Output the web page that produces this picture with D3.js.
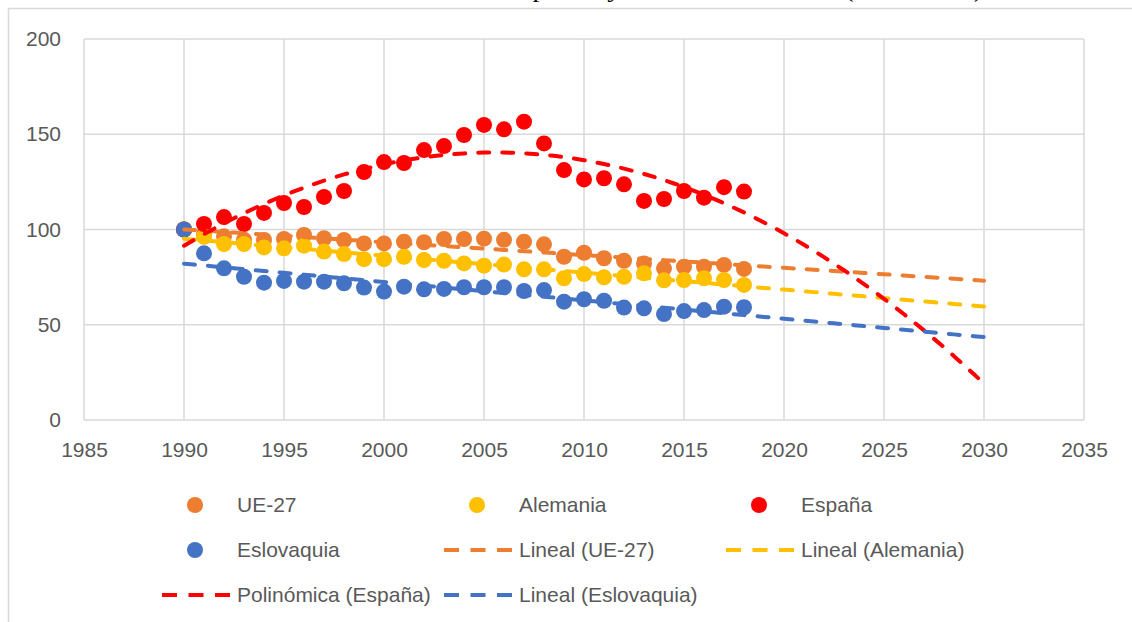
<!DOCTYPE html>
<html>
<head>
<meta charset="utf-8">
<script src="https://cdn.jsdelivr.net/npm/d3@7"></script>
<style>
  html, body { margin: 0; padding: 0; background: #fff; }
  svg { display: block; }
</style>
</head>
<body>
<div id="chart"></div>
<script>
const years = d3.range(1990, 2019);

const ue27 = [100, 97.5, 96.4, 94.6, 94.5, 95.0, 97.1, 95.4, 94.5, 92.7, 92.7, 93.6, 93.3, 95.0, 95.0,
  95.2, 94.6, 93.6, 92.2, 85.7, 87.8, 84.9, 83.6, 82.2, 79.6, 80.5, 80.5, 81.4, 79.3];
const alemania = [100, 96.2, 92.4, 92.4, 90.6, 90.1, 91.5, 88.4, 87.1, 84.4, 84.4, 85.7, 84.0, 83.6, 82.2,
  81.0, 81.6, 79.1, 79.1, 74.4, 76.6, 74.9, 75.2, 77.0, 73.3, 73.5, 74.4, 73.5, 70.9];
const espana = [100, 102.9, 106.5, 102.9, 108.7, 113.9, 111.8, 117.1, 120.2, 130.2, 135.4, 134.9, 141.7, 143.8, 149.6,
  154.9, 152.6, 156.6, 145.2, 131.2, 126.3, 126.9, 123.7, 115.0, 116.0, 120.2, 116.7, 122.2, 119.9];
const eslovaquia = [100, 87.5, 79.6, 75.2, 72.1, 73.0, 72.6, 72.6, 71.8, 69.5, 67.4, 70.0, 68.6, 68.8, 69.7,
  69.7, 69.7, 67.7, 68.2, 62.1, 63.4, 62.6, 59.0, 58.6, 55.6, 57.2, 57.7, 59.5, 59.2];

const seriesNames = ["UE-27", "Alemania", "España", "Eslovaquia"];
const seriesColors = ["#ED7D31", "#FFC000", "#FF0000", "#4472C4"];
const trendOrders = [1, 1, 2, 1];
const trendNames = ["Lineal (UE-27)", "Lineal (Alemania)", "Polinómica (España)", "Lineal (Eslovaquia)"];

const xTicks = d3.range(1985, 2036, 5);
const yTicks = [0, 50, 100, 150, 200];
const forecastEnd = 2030;

const title = "Gráfica 1: Evolución de las emisiones de estos países y de la media UE-27 (1990-2030)";

const W = 1132, H = 622;
const margin = { top: 39, right: 48, bottom: 202, left: 84 };
const font = "'Liberation Sans', Arial, sans-serif";
const textColor = "#595959";
const gridColor = "#d9d9d9";

const svg = d3.select("#chart").append("svg")
  .attr("width", W)
  .attr("height", H);

// title, mostly cut off at the top (as in the source image)
svg.append("text")
  .attr("x", 8)
  .attr("y", -3)
  .attr("font-family", "'Liberation Serif', 'Times New Roman', serif")
  .attr("font-size", 24)
  .attr("textLength", 975)
  .attr("lengthAdjust", "spacingAndGlyphs")
  .attr("fill", "#000")
  .text(title);

// chart frame
svg.append("rect")
  .attr("x", 8.5)
  .attr("y", 8.5)
  .attr("width", W + 20)
  .attr("height", H + 20)
  .attr("fill", "none")
  .attr("stroke", gridColor)
  .attr("stroke-width", 1.5);

const x = d3.scaleLinear()
  .domain([1985, 2035])
  .range([margin.left, W - margin.right]);

const y = d3.scaleLinear()
  .domain([0, 200])
  .range([H - margin.bottom, margin.top]);

// grid
svg.append("g")
  .selectAll("line")
  .data(yTicks)
  .join("line")
  .attr("x1", x(1985))
  .attr("x2", x(2035))
  .attr("y1", d => y(d))
  .attr("y2", d => y(d))
  .attr("stroke", gridColor)
  .attr("stroke-width", 1.5);

svg.append("g")
  .selectAll("line")
  .data(xTicks)
  .join("line")
  .attr("x1", d => x(d))
  .attr("x2", d => x(d))
  .attr("y1", y(0))
  .attr("y2", y(200))
  .attr("stroke", gridColor)
  .attr("stroke-width", 1.5);

// axes (labels only)
const yAxis = svg.append("g")
  .attr("transform", `translate(${margin.left},0)`)
  .call(d3.axisLeft(y).tickValues(yTicks).tickSize(0).tickPadding(23));
yAxis.select(".domain").remove();
yAxis.selectAll("text")
  .attr("font-family", font)
  .attr("font-size", 21)
  .attr("fill", textColor);

const xAxis = svg.append("g")
  .attr("transform", `translate(0,${y(0)})`)
  .call(d3.axisBottom(x).tickValues(xTicks).tickFormat(d3.format("d")).tickSize(0).tickPadding(22));
xAxis.select(".domain").remove();
xAxis.selectAll("text")
  .attr("font-family", font)
  .attr("font-size", 21)
  .attr("fill", textColor);

// least squares polynomial fit
function polyFit(xs, ys, order) {
  const x0 = 1990;
  const n = order + 1;
  const A = Array.from({ length: n }, () => new Array(n + 1).fill(0));
  xs.forEach((xv, k) => {
    const t = xv - x0;
    for (let i = 0; i < n; i++) {
      for (let j = 0; j < n; j++) A[i][j] += Math.pow(t, i + j);
      A[i][n] += ys[k] * Math.pow(t, i);
    }
  });
  for (let i = 0; i < n; i++) {
    let p = i;
    for (let r = i + 1; r < n; r++) if (Math.abs(A[r][i]) > Math.abs(A[p][i])) p = r;
    [A[i], A[p]] = [A[p], A[i]];
    for (let r = 0; r < n; r++) {
      if (r === i) continue;
      const f = A[r][i] / A[i][i];
      for (let c = i; c <= n; c++) A[r][c] -= f * A[i][c];
    }
  }
  const coef = A.map((row, i) => row[n] / row[i]);
  return xv => coef.reduce((s, c, i) => s + c * Math.pow(xv - x0, i), 0);
}

const allSeries = [ue27, alemania, espana, eslovaquia];

// markers
allSeries.forEach((vals, i) => {
  svg.append("g")
    .selectAll("circle")
    .data(vals)
    .join("circle")
    .attr("cx", (d, k) => x(years[k]))
    .attr("cy", d => y(d))
    .attr("r", 8)
    .attr("fill", seriesColors[i]);
});

// trend lines
const trendLine = d3.line()
  .x(d => x(d[0]))
  .y(d => y(d[1]));

allSeries.forEach((vals, i) => {
  const f = polyFit(years, vals, trendOrders[i]);
  const pts = d3.range(1990, forecastEnd + 0.01, 0.5).map(t => [t, f(t)]);
  svg.append("path")
    .datum(pts)
    .attr("fill", "none")
    .attr("stroke", seriesColors[i])
    .attr("stroke-width", 4)
    .attr("stroke-linecap", "round")
    .attr("stroke-dasharray", "11 13")
    .attr("d", trendLine);
});

// legend
const colX = [195, 477, 759];
const rowY = [505, 550, 595];
const legendItems = [
  { type: "marker", s: 0 }, { type: "marker", s: 1 }, { type: "marker", s: 2 },
  { type: "marker", s: 3 }, { type: "trend", s: 0 }, { type: "trend", s: 1 },
  { type: "trend", s: 2 }, { type: "trend", s: 3 }
];

legendItems.forEach((it, k) => {
  const cx = colX[k % 3];
  const cy = rowY[Math.floor(k / 3)];
  const g = svg.append("g");
  if (it.type === "marker") {
    g.append("circle")
      .attr("cx", cx)
      .attr("cy", cy)
      .attr("r", 8)
      .attr("fill", seriesColors[it.s]);
  } else {
    g.append("line")
      .attr("x1", cx - 33)
      .attr("x2", cx + 35)
      .attr("y1", cy)
      .attr("y2", cy)
      .attr("stroke", seriesColors[it.s])
      .attr("stroke-width", 4)
      .attr("stroke-dasharray", "15 11.5");
  }
  g.append("text")
    .attr("x", cx + 42)
    .attr("y", cy)
    .attr("dy", "0.35em")
    .attr("font-family", font)
    .attr("font-size", 21)
    .attr("fill", textColor)
    .text(it.type === "marker" ? seriesNames[it.s] : trendNames[it.s]);
});
</script>
</body>
</html>
